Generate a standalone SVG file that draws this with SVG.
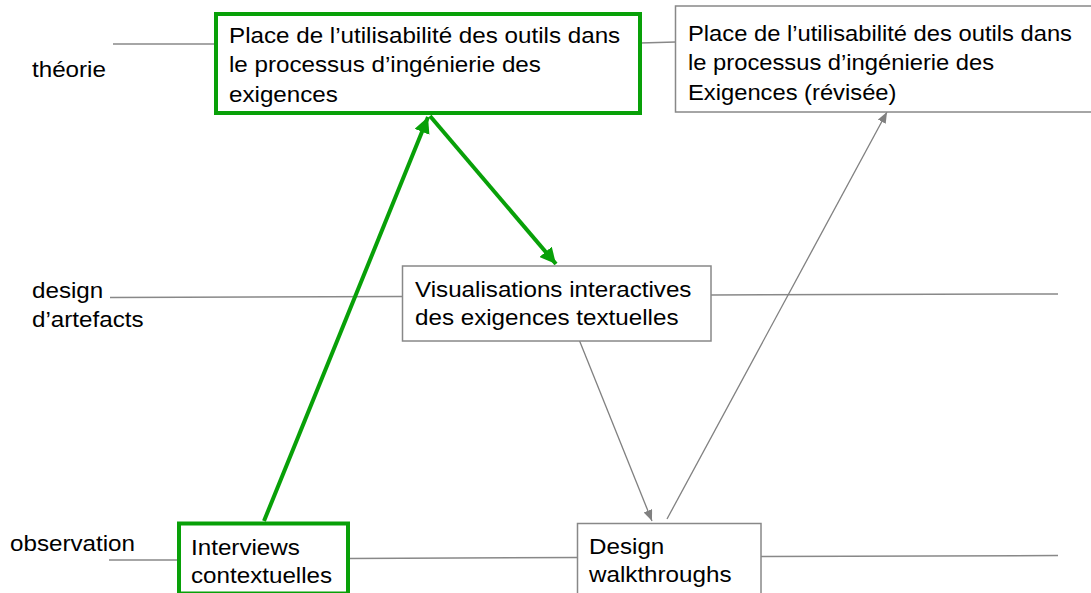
<svg xmlns="http://www.w3.org/2000/svg" width="1091" height="593" viewBox="0 0 1091 593">
<style>
  .t { font-family: "Liberation Sans", Arial, sans-serif; font-size: 22px; fill: #000; }
  .box { fill: #fff; stroke: #888; stroke-width: 1.5; }
  .gbox { fill: #fff; stroke: #08a008; stroke-width: 4; }
  .axis { stroke: #888; stroke-width: 1.5; fill: none; }
  .garrow { stroke: #08a008; stroke-width: 4; fill: none; }
  .arrow { stroke: #808080; stroke-width: 1.3; fill: none; }
</style>
<defs>
  <marker id="gh" markerUnits="userSpaceOnUse" markerWidth="18" markerHeight="16" refX="16" refY="8" orient="auto">
    <path d="M0,0 L16,8 L0,16 z" fill="#08a008"/>
  </marker>
  <marker id="ah" markerUnits="userSpaceOnUse" markerWidth="12" markerHeight="10" refX="11" refY="4.5" orient="auto">
    <path d="M0,0 L11,4.5 L0,9 z" fill="#808080"/>
  </marker>
</defs>
<rect width="1091" height="593" fill="#fff"/>

<g id="labels">
  <g transform="translate(32 77) scale(1.1 1)"><text class="t">théorie</text></g>
  <g transform="translate(32 298) scale(1.1 1)"><text class="t">design</text></g>
  <g transform="translate(32 327) scale(1.1 1)"><text class="t">d’artefacts</text></g>
  <g transform="translate(10 551) scale(1.1 1)"><text class="t">observation</text></g>
</g>

<g id="connectors">
  <line class="axis" x1="113" y1="44" x2="216" y2="44"/>
  <line class="axis" x1="640" y1="43" x2="676" y2="42"/>
  <line class="axis" x1="110" y1="297.5" x2="403" y2="296.5"/>
  <line class="axis" x1="711" y1="295" x2="1058" y2="294"/>
  <line class="axis" x1="109" y1="560" x2="179" y2="560"/>
  <line class="axis" x1="348" y1="558.5" x2="578" y2="557.5"/>
  <line class="axis" x1="761" y1="556.5" x2="1058" y2="555.5"/>
  <line class="garrow" x1="264" y1="521" x2="428" y2="117" marker-end="url(#gh)"/>
  <line class="garrow" x1="430" y1="116" x2="556" y2="264" marker-end="url(#gh)"/>
  <line class="arrow" x1="578" y1="337" x2="652" y2="521" marker-end="url(#ah)"/>
  <line class="arrow" x1="667" y1="519" x2="887" y2="112" marker-end="url(#ah)"/>
</g>

<g id="n-theorie">
  <rect class="gbox" x="216" y="14" width="424" height="99"/>
  <g transform="translate(229 0) scale(1.1 1)">
    <text class="t" x="0" y="43">Place de l’utilisabilité des outils dans</text>
    <text class="t" x="0" y="72">le processus d’ingénierie des</text>
    <text class="t" x="0" y="102">exigences</text>
  </g>
</g>

<g id="n-theorie-revisee">
  <rect class="box" x="675.5" y="6" width="430" height="106"/>
  <g transform="translate(688 0) scale(1.08 1)">
    <text class="t" x="0" y="41">Place de l’utilisabilité des outils dans</text>
    <text class="t" x="0" y="70">le processus d’ingénierie des</text>
    <text class="t" x="0" y="100">Exigences (révisée)</text>
  </g>
</g>

<g id="n-visualisations">
  <rect class="box" x="402.5" y="266" width="308.5" height="75"/>
  <g transform="translate(415 0) scale(1.1 1)">
    <text class="t" x="0" y="297">Visualisations interactives</text>
    <text class="t" x="0" y="325">des exigences textuelles</text>
  </g>
</g>

<g id="n-interviews">
  <rect class="gbox" x="179" y="523.5" width="169" height="70"/>
  <g transform="translate(191 0) scale(1.1 1)">
    <text class="t" x="0" y="555">Interviews</text>
    <text class="t" x="0" y="583">contextuelles</text>
  </g>
</g>

<g id="n-walkthroughs">
  <rect class="box" x="577.5" y="523.5" width="183.5" height="75"/>
  <g transform="translate(589 0) scale(1.1 1)">
    <text class="t" x="0" y="554">Design</text>
    <text class="t" x="0" y="582">walkthroughs</text>
  </g>
</g>
</svg>
